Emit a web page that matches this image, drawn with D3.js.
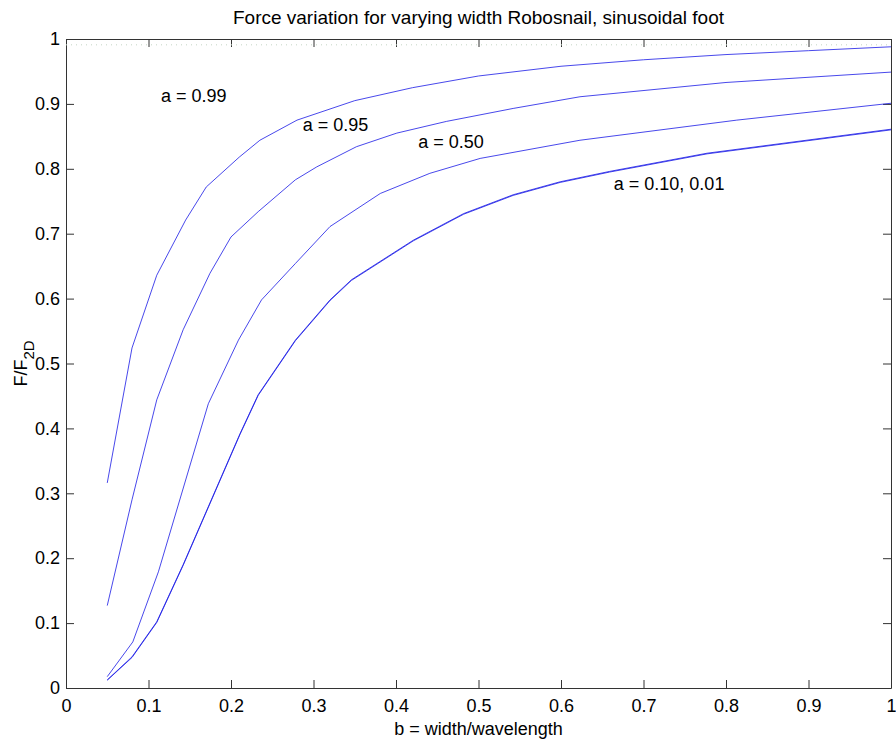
<!DOCTYPE html>
<head>
    <meta charset="utf-8">
    <style>
        body {
            margin: 0;
            padding: 0;
            background: #fff;
        }
        svg text {
            font-family: "Liberation Sans", Arial, sans-serif;
            fill: #000;
        }
        .axis path, .axis line {
            stroke: #333;
            fill: none;
        }
        .curve {
            fill: none;
            stroke: #1a1ae6;
            stroke-width: 1;
            stroke-opacity: 0.8;
        }
    </style>
    <script src="https://d3js.org/d3.v7.min.js"></script>
</head>
<body>
    <svg width="896" height="745"></svg>
    <script>
        // data: b = width/wavelength vs F/F2D
        var bA099 = [0.05, 0.08, 0.11, 0.145, 0.17, 0.21, 0.235, 0.28, 0.35, 0.42, 0.5, 0.6, 0.7, 0.8, 0.9, 1.0];
        var fA099 = [0.316, 0.524, 0.636, 0.721, 0.772, 0.818, 0.844, 0.875, 0.905, 0.925, 0.943, 0.958, 0.968, 0.976, 0.982, 0.988];

        var bA095 = [0.05, 0.08, 0.11, 0.142, 0.1745, 0.2, 0.233, 0.278, 0.304, 0.352, 0.401, 0.461, 0.542, 0.623, 0.8, 1.0];
        var fA095 = [0.127, 0.29, 0.444, 0.552, 0.639, 0.695, 0.734, 0.783, 0.803, 0.834, 0.855, 0.873, 0.893, 0.911, 0.933, 0.949];

        var bA050 = [0.05, 0.081, 0.112, 0.1725, 0.209, 0.237, 0.278, 0.32, 0.381, 0.441, 0.502, 0.623, 0.813, 1.0];
        var fA050 = [0.0175, 0.071, 0.179, 0.438, 0.536, 0.598, 0.654, 0.711, 0.762, 0.793, 0.816, 0.844, 0.875, 0.901];

        var bA010 = [0.05, 0.08, 0.11, 0.142, 0.211, 0.233, 0.278, 0.32, 0.346, 0.421, 0.482, 0.542, 0.599, 0.659, 0.777, 1.0];
        var fA010 = [0.0125, 0.048, 0.102, 0.19, 0.392, 0.452, 0.536, 0.598, 0.629, 0.69, 0.731, 0.76, 0.780, 0.796, 0.824, 0.861];
        var fA001 = [0.012, 0.047, 0.101, 0.189, 0.391, 0.451, 0.535, 0.597, 0.628, 0.689, 0.730, 0.759, 0.779, 0.795, 0.823, 0.860];

        // faint dotted trace just under the top of the box
        var bTop = [0, 1];
        var fTop = [0.991, 0.991];

        var xTicks = [0, 0.1, 0.2, 0.3, 0.4, 0.5, 0.6, 0.7, 0.8, 0.9, 1];
        var yTicks = [0, 0.1, 0.2, 0.3, 0.4, 0.5, 0.6, 0.7, 0.8, 0.9, 1];

        var labels = ["a = 0.99", "a = 0.95", "a = 0.50", "a = 0.10, 0.01"];
        var labelB = [0.115, 0.287, 0.427, 0.664];
        var labelF = [0.903, 0.858, 0.832, 0.768];

        var svg = d3.select("svg"),
            margin = {top: 39, right: 5, bottom: 57, left: 66},
            width = +svg.attr("width") - margin.left - margin.right,
            height = +svg.attr("height") - margin.top - margin.bottom;

        var x = d3.scaleLinear().domain([0, 1]).range([0, width]);
        var y = d3.scaleLinear().domain([0, 1]).range([height, 0]);

        var g = svg.append("g")
            .attr("transform", "translate(" + margin.left + "," + margin.top + ")");

        // axes box, ticks pointing inwards on all four sides
        var fmt = function (d) { return d3.format("")(+d.toFixed(1)); };
        g.append("g").attr("class", "axis")
            .attr("transform", "translate(0," + height + ")")
            .call(d3.axisBottom(x).tickValues(xTicks).tickSizeInner(-8).tickSizeOuter(0).tickPadding(11).tickFormat(fmt));
        g.append("g").attr("class", "axis")
            .call(d3.axisLeft(y).tickValues(yTicks).tickSizeInner(-8).tickSizeOuter(0).tickPadding(6).tickFormat(fmt));
        g.append("g").attr("class", "axis")
            .call(d3.axisTop(x).tickValues(xTicks).tickSizeInner(-8).tickSizeOuter(0).tickFormat(""));
        g.append("g").attr("class", "axis")
            .attr("transform", "translate(" + width + ",0)")
            .call(d3.axisRight(y).tickValues(yTicks).tickSizeInner(-8).tickSizeOuter(0).tickFormat(""));
        g.selectAll(".axis text")
            .attr("font-size", 18)
            .attr("font-family", "Liberation Sans, Arial, sans-serif")
            .attr("fill", "#000");

        var line = d3.line()
            .x(function (d) { return x(d[0]); })
            .y(function (d) { return y(d[1]); });

        g.append("path")
            .datum(d3.zip(bTop, fTop))
            .attr("fill", "none")
            .attr("stroke", "#c4d4c4")
            .attr("stroke-width", 1)
            .attr("stroke-dasharray", "1,4")
            .attr("d", line);

        var series = [[bA099, fA099], [bA095, fA095], [bA050, fA050], [bA010, fA010], [bA010, fA001]];
        g.selectAll(".curve")
            .data(series)
            .enter().append("path")
                .attr("class", "curve")
                .attr("d", function (s) { return line(d3.zip(s[0], s[1])); });

        // curve annotations
        g.selectAll(".label")
            .data(labels)
            .enter().append("text")
                .attr("class", "label")
                .attr("x", function (d, i) { return x(labelB[i]); })
                .attr("y", function (d, i) { return y(labelF[i]); })
                .attr("font-size", 18)
                .text(function (d) { return d; });

        // title and axis labels
        svg.append("text")
            .attr("x", margin.left + width / 2)
            .attr("y", 24)
            .attr("text-anchor", "middle")
            .attr("font-size", 19)
            .text("Force variation for varying width Robosnail, sinusoidal foot");

        svg.append("text")
            .attr("x", margin.left + width / 2)
            .attr("y", 735)
            .attr("text-anchor", "middle")
            .attr("font-size", 18)
            .text("b = width/wavelength");

        var yl = svg.append("text")
            .attr("transform", "translate(27," + (margin.top + height / 2) + ") rotate(-90)")
            .attr("text-anchor", "middle")
            .attr("font-size", 18);
        yl.append("tspan").text("F/F");
        yl.append("tspan").attr("dy", 7).attr("font-size", 15).text("2D");
    </script>
</body>
</html>
